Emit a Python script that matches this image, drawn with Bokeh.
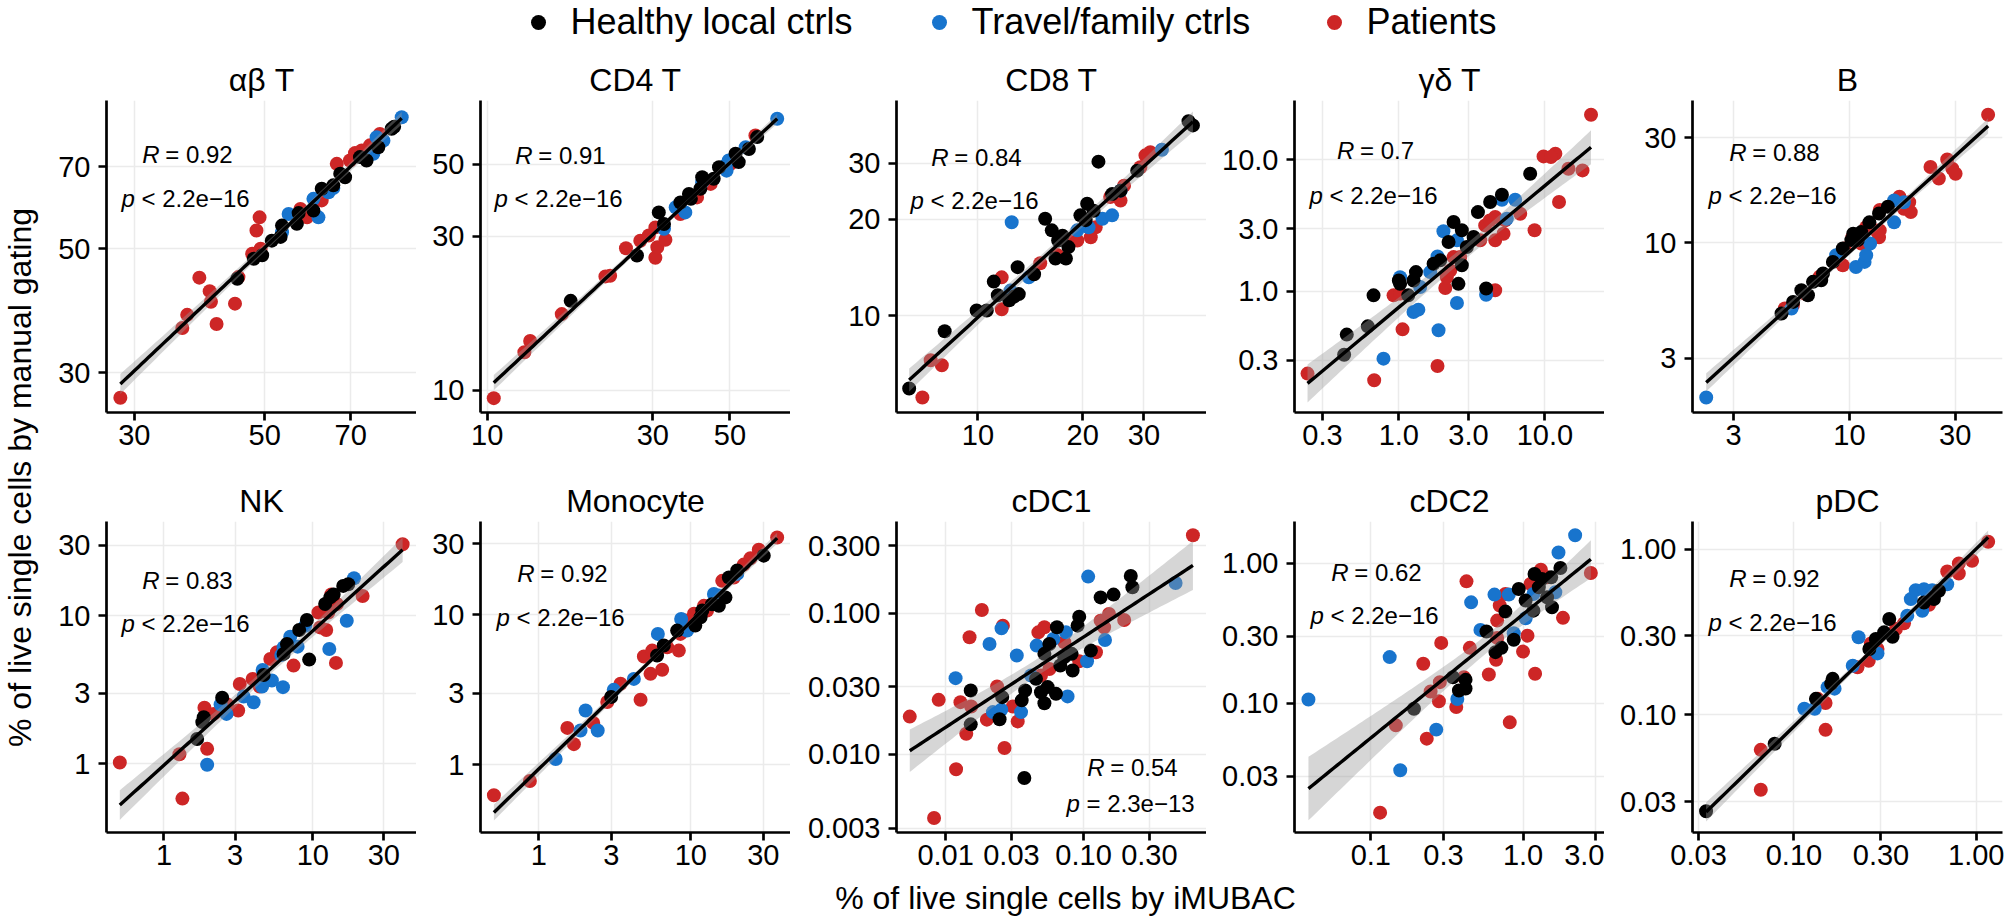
import numpy as np
from bokeh.plotting import figure
from bokeh.models import Range1d, FixedTicker, Label
from bokeh.layouts import row, column
from bokeh.embed import file_html
from bokeh.resources import INLINE

FONT = "Liberation Sans"

# ---------------- data ----------------
GROUPS = ["Healthy local ctrls", "Travel/family ctrls", "Patients"]
GROUP_COLORS = ["#000000", "#1874CD", "#CD2626"]

PANEL_TITLES = ["αβ T", "CD4 T", "CD8 T", "γδ T", "B", "NK", "Monocyte", "cDC1", "cDC2", "pDC"]
R_VALUES = ["0.92", "0.91", "0.84", "0.7", "0.88", "0.83", "0.92", "0.54", "0.62", "0.92"]
P_TEXTS = ["< 2.2e−16"] * 7 + ["= 2.3e−13"] + ["< 2.2e−16"] * 2

# alpha-beta T
abT_hc_x = [44.9, 47.9, 49.5, 51.4, 53.2, 53.5, 56.7, 57.1, 60.5, 62.5, 65.4, 67.2, 68.5, 72.6, 74.5, 78.0, 82.2, 83.0]
abT_hc_y = [44.2, 48.0, 48.7, 51.7, 52.5, 55.0, 55.4, 57.9, 58.5, 64.0, 64.9, 68.1, 67.1, 72.9, 71.9, 75.9, 81.9, 82.6]
abT_tf_x = [53.5, 54.9, 61.7, 60.5, 64.2, 65.4, 76.5, 77.5, 79.6, 85.5]
abT_tf_y = [53.5, 57.7, 56.9, 61.4, 63.1, 64.2, 73.9, 79.1, 78.0, 85.9]
abT_pt_x = [28.4, 36.2, 36.9, 38.7, 40.3, 40.5, 41.4, 44.5, 45.1, 47.6, 48.4, 49.0, 49.2, 57.5, 59.0, 62.5, 66.3, 69.8, 71.2, 73.1, 75.5, 78.5]
abT_pt_y = [27.1, 36.1, 38.1, 44.4, 42.0, 40.2, 36.7, 39.9, 44.5, 49.0, 53.9, 56.9, 50.0, 58.9, 56.9, 61.0, 70.9, 71.9, 74.1, 74.9, 76.5, 80.2]

# CD4 T
cd4_hc_x = [17.4, 27.0, 31.2, 32.3, 36.0, 38.1, 41.1, 41.6, 44.9, 46.5, 51.9, 53.0, 56.7, 59.9, 38.6]
cd4_hc_y = [18.9, 26.1, 35.5, 32.7, 38.1, 40.5, 42.0, 45.6, 45.1, 49.0, 53.9, 50.8, 55.8, 60.7, 39.1]
cd4_tf_x = [32.3, 34.9, 37.2, 41.6, 48.6, 49.6, 55.5, 68.4, 48.9]
cd4_tf_y = [31.6, 36.8, 35.5, 44.0, 49.6, 51.4, 56.5, 69.2, 47.8]
cd4_pt_x = [10.45, 12.8, 13.3, 16.4, 21.9, 22.6, 25.1, 27.6, 29.2, 30.5, 30.9, 32.6, 36.0, 40.2, 44.0, 50.2, 59.2, 30.5]
cd4_pt_y = [9.45, 13.1, 14.2, 17.2, 22.5, 22.6, 27.5, 29.0, 30.1, 25.7, 27.7, 29.2, 35.1, 39.5, 43.5, 50.2, 61.4, 31.9]

# CD8 T
cd8_hc_x = [6.34, 8.02, 9.91, 10.6, 11.1, 11.4, 12.3, 13.0, 13.1, 12.7, 14.5, 15.6, 16.3, 16.7, 17.5, 17.9, 18.2, 19.7, 20.4, 20.6, 21.5, 22.2, 24.3, 25.7, 28.7, 40.3, 41.5, 17.0]
cd8_hc_y = [5.94, 8.96, 10.4, 10.4, 12.8, 11.6, 11.2, 14.2, 11.7, 11.5, 13.5, 20.1, 18.5, 15.1, 17.8, 15.1, 16.4, 20.6, 19.9, 22.4, 21.3, 30.3, 24.0, 24.6, 28.4, 40.5, 39.3, 17.2]
cd8_tf_x = [12.5, 12.4, 14.0, 19.3, 20.8, 22.8, 24.3, 25.7, 33.8]
cd8_tf_y = [19.6, 12.0, 13.2, 18.5, 18.9, 20.1, 20.6, 24.6, 33.0]
cd8_pt_x = [6.92, 7.31, 7.87, 11.7, 11.7, 15.1, 16.9, 18.1, 19.3, 21.1, 21.8, 24.0, 25.7, 26.3, 29.3, 30.3, 31.3]
cd8_pt_y = [5.57, 7.28, 7.02, 13.2, 10.5, 14.6, 15.5, 17.2, 17.2, 17.6, 18.9, 23.5, 22.9, 25.5, 29.1, 31.7, 32.4]

# gamma-delta T
gdT_hc_x = [0.440, 0.422, 0.613, 0.671, 1.0, 1.02, 1.16, 1.31, 1.26, 1.73, 1.92, 2.19, 2.37, 2.56, 2.70, 2.70, 2.92, 3.25, 3.48, 3.96, 4.22, 5.08, 7.93]
gdT_hc_y = [0.469, 0.330, 0.542, 0.932, 1.21, 1.14, 0.932, 1.40, 1.21, 1.62, 1.72, 2.37, 3.36, 1.14, 2.91, 1.58, 2.17, 2.59, 4.00, 1.05, 4.77, 5.42, 7.83]
gdT_tf_x = [0.785, 1.26, 1.36, 1.87, 1.02, 1.64, 1.84, 2.02, 2.50, 2.50, 3.96, 5.08, 5.49, 6.26, 1.40]
gdT_tf_y = [0.308, 0.697, 0.726, 0.506, 1.28, 1.40, 1.84, 2.86, 2.44, 0.815, 0.943, 4.97, 3.56, 4.97, 1.08]
gdT_pt_x = [0.237, 0.678, 1.06, 1.84, 0.92, 1.02, 2.08, 2.13, 2.25, 2.37, 2.63, 3.61, 3.90, 4.57, 4.57, 4.57, 5.21, 5.35, 6.78, 8.50, 9.79, 11.8, 11.0, 12.5, 14.5, 18.1, 20.7, 4.2]
gdT_pt_y = [0.237, 0.211, 0.514, 0.271, 0.932, 0.96, 1.06, 1.28, 1.44, 1.82, 1.82, 2.44, 3.17, 2.44, 3.67, 1.02, 2.74, 3.46, 3.89, 2.91, 10.6, 11.1, 10.5, 4.77, 8.54, 8.30, 22.0, 3.46]

# B
b_hc_x = [4.94, 5.57, 6.07, 6.50, 6.85, 7.46, 7.6, 8.42, 9.33, 10.2, 10.4, 11.3, 12.3, 13.6, 14.9, 10.9]
b_hc_y = [4.78, 5.40, 6.10, 5.79, 6.66, 6.77, 7.26, 8.20, 9.43, 10.3, 11.0, 11.2, 12.4, 13.6, 14.6, 10.3]
b_tf_x = [2.26, 5.48, 8.71, 10.7, 11.7, 11.9, 12.4, 15.9, 15.9, 17.6]
b_tf_y = [1.99, 5.04, 8.79, 7.78, 8.20, 8.79, 9.93, 12.4, 15.6, 15.3]
b_pt_x = [5.11, 5.56, 6.28, 7.34, 9.33, 9.5, 11.3, 11.9, 13.2, 13.6, 13.7, 13.7, 16.8, 17.6, 18.6, 18.9, 23.2, 25.3, 27.6, 29.1, 30.1, 42.2, 10.3]
b_pt_y = [5.04, 5.22, 5.89, 7.02, 7.92, 9.43, 9.93, 11.8, 11.4, 10.6, 11.4, 14.1, 16.2, 14.3, 15.3, 13.8, 22.1, 19.6, 23.9, 21.7, 20.6, 38.2, 10.6]

# NK
nk_hc_x = [1.67, 1.81, 1.85, 2.46, 4.67, 6.36, 6.7, 8.10, 9.12, 9.45, 12.1, 13.1, 13.8, 16.0, 17.3]
nk_hc_y = [1.47, 1.91, 2.06, 2.79, 3.98, 5.52, 6.44, 8.01, 9.35, 5.05, 12.0, 13.3, 13.9, 15.9, 16.3]
nk_tf_x = [1.95, 2.40, 2.63, 3.43, 4.00, 4.60, 4.56, 5.31, 6.30, 6.14, 7.05, 7.90, 8.89, 12.9, 16.9, 18.9, 6.36]
nk_tf_y = [0.985, 2.51, 2.17, 2.84, 2.60, 4.30, 3.32, 3.65, 3.29, 5.43, 7.22, 6.18, 8.56, 5.96, 9.25, 17.9, 6.1]
nk_pt_x = [0.505, 1.33, 1.27, 1.95, 1.87, 2.16, 2.66, 3.15, 3.23, 3.94, 4.39, 5.18, 5.74, 7.42, 11.2, 12.3, 10.9, 12.7, 13.3, 14.3, 14.5, 21.6, 40.1]
nk_pt_y = [1.02, 0.581, 1.16, 1.26, 2.39, 2.17, 2.51, 2.29, 3.46, 3.74, 3.32, 5.10, 5.66, 4.60, 8.34, 8.01, 10.5, 10.5, 13.9, 4.80, 12.0, 13.6, 30.4]

# Monocyte
mono_hc_x = [2.99, 6.00, 6.64, 8.13, 10.7, 11.6, 11.9, 13.8, 15.3, 16.9, 17.8, 20.2, 30.2]
mono_hc_y = [2.83, 5.36, 6.25, 7.86, 8.49, 9.65, 10.7, 11.8, 11.5, 13.1, 17.8, 19.8, 24.9]
mono_tf_x = [1.29, 1.88, 2.03, 2.44, 3.11, 4.22, 6.07, 8.64, 9.46, 14.2, 15.3, 20.2]
mono_tf_y = [1.09, 1.69, 2.30, 1.69, 3.16, 3.74, 7.47, 9.40, 7.86, 13.8, 13.5, 18.8]
mono_pt_x = [0.506, 0.873, 1.54, 1.70, 2.28, 2.82, 3.45, 4.67, 4.91, 5.43, 5.57, 6.48, 6.99, 8.34, 8.55, 9.22, 10.5, 12.2, 12.8, 16.1, 19.2, 22.3, 24.7, 28.0, 37.0]
mono_pt_y = [0.625, 0.778, 1.76, 1.37, 1.90, 2.62, 3.47, 2.71, 5.28, 4.04, 5.78, 4.30, 6.09, 5.78, 7.47, 9.17, 10.2, 11.5, 10.7, 16.9, 17.8, 21.7, 23.9, 27.3, 32.9]

# cDC1
cdc1_hc_x = [0.0152, 0.0152, 0.0246, 0.0257, 0.0356, 0.0377, 0.0372, 0.0452, 0.0491, 0.0520, 0.0549, 0.0520, 0.0565, 0.0641, 0.0631, 0.0678, 0.0725, 0.0819, 0.0833, 0.0905, 0.0930, 0.113, 0.133, 0.165, 0.220, 0.226]
cdc1_hc_y = [0.0283, 0.0163, 0.0177, 0.0254, 0.0241, 0.0283, 0.00681, 0.0342, 0.0275, 0.0230, 0.0299, 0.0514, 0.0604, 0.0792, 0.0268, 0.0425, 0.0487, 0.0514, 0.0392, 0.0814, 0.0942, 0.0542, 0.129, 0.135, 0.183, 0.152]
cdc1_tf_x = [0.0118, 0.0208, 0.0220, 0.0253, 0.0254, 0.0328, 0.0352, 0.0416, 0.0457, 0.0604, 0.0745, 0.0766, 0.106, 0.108, 0.143, 0.465]
cdc1_tf_y = [0.0346, 0.0604, 0.0199, 0.0207, 0.0779, 0.0500, 0.0199, 0.0361, 0.0588, 0.0655, 0.0730, 0.0257, 0.0456, 0.181, 0.0645, 0.163]
cdc1_pt_x = [0.00549, 0.00824, 0.00890, 0.0119, 0.0128, 0.0141, 0.0149, 0.0153, 0.0183, 0.0199, 0.0236, 0.0260, 0.0267, 0.0307, 0.0333, 0.0470, 0.0520, 0.0491, 0.0565, 0.0725, 0.0930, 0.123, 0.133, 0.153, 0.141, 0.197, 0.621]
cdc1_pt_y = [0.0185, 0.00355, 0.0243, 0.00784, 0.0234, 0.0140, 0.0673, 0.0218, 0.105, 0.0176, 0.0302, 0.0814, 0.0111, 0.0218, 0.0171, 0.0730, 0.0792, 0.0361, 0.0402, 0.0621, 0.0456, 0.0528, 0.0883, 0.0984, 0.0792, 0.0892, 0.355]

# cDC2
cdc2_hc_x = [0.192, 0.346, 0.379, 0.419, 0.419, 0.575, 0.659, 0.721, 0.869, 0.766, 0.937, 1.04, 1.17, 1.19, 1.27, 1.33, 1.44, 1.53, 1.55, 1.76]
cdc2_hc_y = [0.0911, 0.153, 0.123, 0.147, 0.127, 0.324, 0.231, 0.248, 0.283, 0.450, 0.653, 0.539, 0.457, 0.835, 0.671, 0.769, 0.569, 0.790, 0.483, 0.921]
cdc2_tf_x = [0.0389, 0.133, 0.156, 0.269, 0.370, 0.456, 0.525, 0.649, 0.806, 0.869, 1.04, 1.17, 1.63, 1.71, 2.20]
cdc2_tf_y = [0.106, 0.213, 0.0331, 0.0646, 0.107, 0.524, 0.333, 0.595, 0.595, 0.315, 0.403, 0.601, 0.618, 1.19, 1.58]
cdc2_pt_x = [0.115, 0.146, 0.221, 0.233, 0.247, 0.280, 0.284, 0.290, 0.364, 0.409, 0.425, 0.447, 0.596, 0.665, 0.676, 0.676, 0.703, 0.766, 0.818, 1.0, 1.07, 1.12, 1.20, 1.31, 1.44, 1.83, 2.79]
cdc2_pt_y = [0.0165, 0.0693, 0.191, 0.0557, 0.121, 0.103, 0.141, 0.269, 0.0937, 0.153, 0.740, 0.248, 0.160, 0.204, 0.292, 0.388, 0.497, 0.601, 0.0728, 0.233, 0.303, 0.709, 0.162, 0.896, 0.790, 0.406, 0.849]

# pDC
pdc_hc_x = [0.0330, 0.0784, 0.132, 0.160, 0.163, 0.259, 0.281, 0.312, 0.333, 0.347, 0.516, 0.585, 0.623]
pdc_hc_y = [0.0262, 0.0669, 0.125, 0.154, 0.165, 0.250, 0.287, 0.315, 0.379, 0.296, 0.477, 0.500, 0.561]
pdc_tf_x = [0.114, 0.130, 0.153, 0.167, 0.210, 0.226, 0.287, 0.418, 0.437, 0.465, 0.516, 0.538, 0.505, 0.573, 0.692]
pdc_tf_y = [0.109, 0.109, 0.147, 0.144, 0.198, 0.294, 0.235, 0.397, 0.500, 0.566, 0.574, 0.536, 0.425, 0.566, 0.615]
pdc_pt_x = [0.0658, 0.0658, 0.135, 0.149, 0.149, 0.223, 0.257, 0.264, 0.287, 0.362, 0.401, 0.550, 0.692, 0.801, 0.801, 0.947, 1.16]
pdc_pt_y = [0.0615, 0.0353, 0.125, 0.118, 0.0812, 0.194, 0.212, 0.270, 0.250, 0.330, 0.357, 0.462, 0.734, 0.820, 0.714, 0.851, 1.11]

# axis limits and ticks
X_RANGES = [(26.9, 90.6), (9.57, 74.7), (5.83, 45.4), (0.193, 25.6), (1.96, 49.0),
            (0.411, 49.7), (0.413, 45.3), (0.0044, 0.779), (0.0315, 3.43), (0.0278, 1.39)]
Y_RANGES = [(25.5, 92.0), (8.53, 78.8), (5.0, 47.0), (0.120, 28.2), (1.70, 44.3),
            (0.343, 43.3), (0.352, 42.1), (0.0028, 0.444), (0.0119, 1.98), (0.0195, 1.47)]
X_TICKS = [[30, 50, 70], [10, 30, 50], [10, 20, 30], [0.3, 1, 3, 10], [3, 10, 30],
           [1, 3, 10, 30], [1, 3, 10, 30], [0.01, 0.03, 0.1, 0.3], [0.1, 0.3, 1, 3], [0.03, 0.1, 0.3, 1]]
X_TICK_LABELS = [["30", "50", "70"], ["10", "30", "50"], ["10", "20", "30"], ["0.3", "1.0", "3.0", "10.0"],
                 ["3", "10", "30"], ["1", "3", "10", "30"], ["1", "3", "10", "30"],
                 ["0.01", "0.03", "0.10", "0.30"], ["0.1", "0.3", "1.0", "3.0"], ["0.03", "0.10", "0.30", "1.00"]]
Y_TICKS = [[30, 50, 70], [10, 30, 50], [10, 20, 30], [0.3, 1, 3, 10], [3, 10, 30],
           [1, 3, 10, 30], [1, 3, 10, 30], [0.003, 0.01, 0.03, 0.1, 0.3], [0.03, 0.1, 0.3, 1], [0.03, 0.1, 0.3, 1]]
Y_TICK_LABELS = [["30", "50", "70"], ["10", "30", "50"], ["10", "20", "30"], ["0.3", "1.0", "3.0", "10.0"],
                 ["3", "10", "30"], ["1", "3", "10", "30"], ["1", "3", "10", "30"],
                 ["0.003", "0.010", "0.030", "0.100", "0.300"], ["0.03", "0.10", "0.30", "1.00"],
                 ["0.03", "0.10", "0.30", "1.00"]]

PANEL_DATA = [
    [(abT_hc_x, abT_hc_y), (abT_tf_x, abT_tf_y), (abT_pt_x, abT_pt_y)],
    [(cd4_hc_x, cd4_hc_y), (cd4_tf_x, cd4_tf_y), (cd4_pt_x, cd4_pt_y)],
    [(cd8_hc_x, cd8_hc_y), (cd8_tf_x, cd8_tf_y), (cd8_pt_x, cd8_pt_y)],
    [(gdT_hc_x, gdT_hc_y), (gdT_tf_x, gdT_tf_y), (gdT_pt_x, gdT_pt_y)],
    [(b_hc_x, b_hc_y), (b_tf_x, b_tf_y), (b_pt_x, b_pt_y)],
    [(nk_hc_x, nk_hc_y), (nk_tf_x, nk_tf_y), (nk_pt_x, nk_pt_y)],
    [(mono_hc_x, mono_hc_y), (mono_tf_x, mono_tf_y), (mono_pt_x, mono_pt_y)],
    [(cdc1_hc_x, cdc1_hc_y), (cdc1_tf_x, cdc1_tf_y), (cdc1_pt_x, cdc1_pt_y)],
    [(cdc2_hc_x, cdc2_hc_y), (cdc2_tf_x, cdc2_tf_y), (cdc2_pt_x, cdc2_pt_y)],
    [(pdc_hc_x, pdc_hc_y), (pdc_tf_x, pdc_tf_y), (pdc_pt_x, pdc_pt_y)],
]

# ---------------- layout / style ----------------
FRAME_W = 310
YLAB_W = 48
COL_WIDTHS = [368, 374, 416, 398, 400]
COL_MBL = [58, 64, 106, 88, 88]
COL_MBR = [0, 0, 0, 0, 2]
LEG_H = 44
ROW_H = [426, 408]
ROW_MBT = [56, 51]
ROW_FRAME_H = [312, 311]
XLAB_H = 921 - LEG_H - sum(ROW_H)
# annotation placement (pixels inside frame): centre x, R line centre y, p line centre y
ANN_CX = [81, 80, 80, 81, 82, 81, 82, 236, 82, 82]
ANN_RY = [54, 55, 57, 50, 52, 59, 52, 246, 51, 57]
ANN_PY = [98, 98, 100, 95, 95, 102, 96, 282, 94, 101]

TICK_FS = "29px"
TITLE_FS = "32px"
ANN_FS = 24
PT_SIZE = 14


def char_w(s):
    w = 0.0
    for c in s:
        if c in "0123456789":
            w += 0.556
        elif c in ". ":
            w += 0.278
        else:
            w += 0.584
    return w


def make_panel(i):
    r, c = divmod(i, 5)
    xr, yr = X_RANGES[i], Y_RANGES[i]
    fh = ROW_FRAME_H[r]
    p = figure(width=COL_WIDTHS[c], height=ROW_H[r], x_axis_type="log", y_axis_type="log",
               x_range=Range1d(*xr), y_range=Range1d(*yr), title=PANEL_TITLES[i],
               min_border_left=COL_MBL[c], min_border_right=COL_MBR[c],
               min_border_top=ROW_MBT[r], min_border_bottom=ROW_H[r] - ROW_MBT[r] - fh,
               toolbar_location=None, output_backend="svg")
    p.outline_line_color = None
    p.background_fill_color = "white"
    p.border_fill_color = "white"
    p.title.align = "center"
    p.title.text_font = FONT
    p.title.text_font_size = TITLE_FS
    p.title.text_font_style = "normal"
    p.title.text_color = "black"
    p.title.standoff = 6

    for ax, grid, ticks, labels, standoff in [(p.xaxis[0], p.xgrid[0], X_TICKS[i], X_TICK_LABELS[i], 4),
                                              (p.yaxis[0], p.ygrid[0], Y_TICKS[i], Y_TICK_LABELS[i], 8)]:
        tk = FixedTicker(ticks=ticks)
        ax.ticker = tk
        grid.ticker = tk
        ax.major_label_overrides = {t: l for t, l in zip(ticks, labels)}
        ax.axis_line_color = "black"
        ax.axis_line_width = 2.7
        ax.major_tick_line_color = "black"
        ax.major_tick_line_width = 2.7
        ax.major_tick_out = 8
        ax.major_tick_in = 0
        ax.minor_tick_line_color = None
        ax.major_label_text_font = FONT
        ax.major_label_text_font_size = TICK_FS
        ax.major_label_text_color = "black"
        ax.major_label_standoff = standoff
        grid.grid_line_color = "#EBEBEB"
        grid.grid_line_width = 1.5

    # points: patients first, then travel/family, then healthy
    for g in [2, 1, 0]:
        gx, gy = PANEL_DATA[i][g]
        p.scatter(gx, gy, size=PT_SIZE, fill_color=GROUP_COLORS[g], line_color=None)

    # linear fit on log scales with 95% confidence band
    allx = np.log10(np.concatenate([np.asarray(d[0], float) for d in PANEL_DATA[i]]))
    ally = np.log10(np.concatenate([np.asarray(d[1], float) for d in PANEL_DATA[i]]))
    n = len(allx)
    b1, b0 = np.polyfit(allx, ally, 1)
    resid = ally - (b0 + b1 * allx)
    s = np.sqrt(np.sum(resid ** 2) / (n - 2))
    xm = allx.mean()
    sxx = np.sum((allx - xm) ** 2)
    gx = np.linspace(allx.min(), allx.max(), 80)
    yh = b0 + b1 * gx
    se = s * np.sqrt(1.0 / n + (gx - xm) ** 2 / sxx)
    tq = 1.96 + (1.96 ** 3 + 1.96) / (4 * (n - 2))
    p.varea(x=10 ** gx, y1=10 ** (yh - tq * se), y2=10 ** (yh + tq * se),
            fill_color="#999999", fill_alpha=0.4)
    p.line(10 ** gx, 10 ** yh, line_color="black", line_width=3.4)

    # annotation
    lx0, lx1 = np.log10(xr)
    ly0, ly1 = np.log10(yr)

    def fx(px):
        return 10 ** (lx0 + px / FRAME_W * (lx1 - lx0))

    def fy(py):
        return 10 ** (ly1 - py / fh * (ly1 - ly0))

    rest_r = "= " + R_VALUES[i]
    tot_r = 23 + ANN_FS * char_w(rest_r)
    rl = ANN_CX[i] - tot_r / 2
    pl = ANN_CX[i] - 66
    for txt, xx, yy, style in [("R", rl, ANN_RY[i], "italic"), (rest_r, rl + 23, ANN_RY[i], "normal"),
                               ("p", pl, ANN_PY[i], "italic"), (P_TEXTS[i], pl + 20, ANN_PY[i], "normal")]:
        p.add_layout(Label(x=fx(xx), y=fy(yy), text=txt, text_font=FONT, text_font_size=f"{ANN_FS}px",
                           text_font_style=style, text_align="left", text_baseline="middle",
                           text_color="black"))
    return p


panels = [make_panel(i) for i in range(10)]
TOTAL_W = YLAB_W + sum(COL_WIDTHS)


def blank_fig(w, h):
    f = figure(width=w, height=h, x_range=Range1d(0, w), y_range=Range1d(0, h),
               min_border=0, toolbar_location=None, output_backend="svg",
               x_axis_location=None, y_axis_location=None)
    f.grid.visible = False
    f.outline_line_color = None
    return f


# legend strip
leg = blank_fig(TOTAL_W, LEG_H)
LEG_DOT_X = [538, 939, 1334]
leg.scatter(LEG_DOT_X, [LEG_H - 22] * 3, size=15, fill_color=GROUP_COLORS, line_color=None)
for gname, dx in zip(GROUPS, LEG_DOT_X):
    leg.add_layout(Label(x=dx + 32, y=LEG_H - 21, text=gname, text_font=FONT, text_font_size="36px",
                         text_align="left", text_baseline="middle", text_color="black"))

# y-axis title
YL_H = ROW_H[0] + ROW_H[1]
ylab = blank_fig(YLAB_W, YL_H)
ylab.add_layout(Label(x=19, y=LEG_H + YL_H - 477, text="% of live single cells by manual gating",
                      text_font=FONT, text_font_size="32px", angle=np.pi / 2,
                      text_align="center", text_baseline="middle", text_color="black"))

# x-axis title
xlab = blank_fig(TOTAL_W, XLAB_H)
xlab.add_layout(Label(x=1065, y=XLAB_H - (897 - (LEG_H + YL_H)), text="% of live single cells by iMUBAC",
                      text_font=FONT, text_font_size="32px", text_align="center",
                      text_baseline="middle", text_color="black"))

grid_block = column(row(*panels[:5]), row(*panels[5:]))
layout = column(leg, row(ylab, grid_block), xlab)

open("out.html", "w").write(file_html(layout, INLINE))
